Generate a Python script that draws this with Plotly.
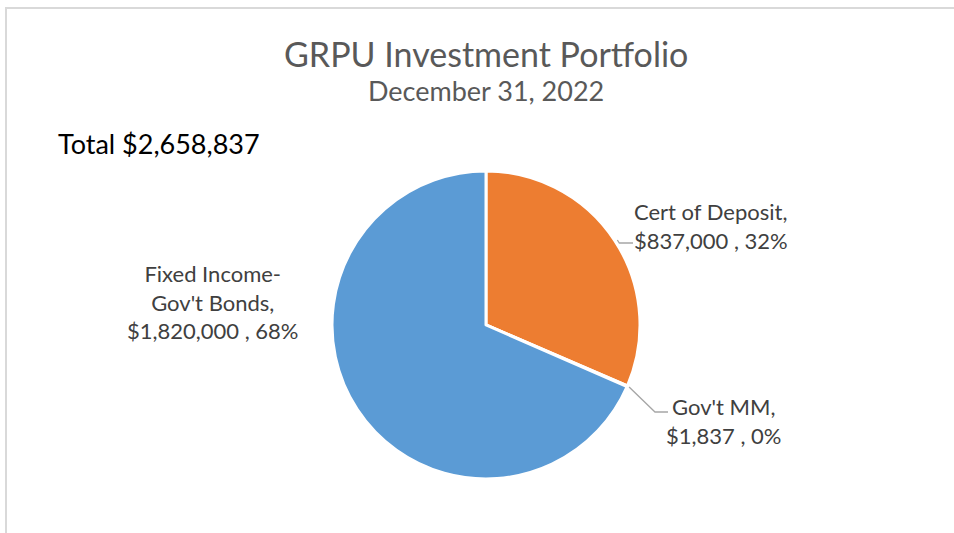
import math
import plotly.graph_objects as go

# ---- data ----
labels = ["Cert of Deposit", "Gov't MM", "Fixed Income-<br>Gov't Bonds"]
values = [837000, 1837, 1820000]
pct_labels = ["32%", "0%", "68%"]
colors = ["#ED7D31", "#A5A5A5", "#5B9BD5"]
title_text = "GRPU Investment Portfolio"
subtitle_text = "December 31, 2022"

W, H = 954, 533
total = sum(values)

# pie geometry (pixels)
CX, CY, R = 486, 325, 154


def px(x):
    return x / W


def py(y):
    return 1 - y / H


fig = go.Figure()
fig.add_trace(go.Pie(
    labels=labels,
    values=values,
    sort=False,
    direction="clockwise",
    rotation=0,
    marker=dict(colors=colors, line=dict(color="white", width=3)),
    textinfo="none",
    hoverinfo="label+value+percent",
    domain=dict(x=[px(CX - R), px(CX + R)], y=[py(CY + R), py(CY - R)]),
    showlegend=False,
))


def fmt(i):
    return f"{labels[i]},<br>${values[i]:,} , {pct_labels[i]}"


FONT = "Lato, Calibri, sans-serif"
label_font = dict(family=FONT, size=22, color="#404040")

# slice mid angles (clockwise from 12 o'clock)
cum = 0
mids = []
for v in values:
    mids.append((cum + v / 2) / total * 2 * math.pi)
    cum += v


def edge(theta, r):
    return CX + r * math.sin(theta), CY - r * math.cos(theta)


annotations = [
    dict(text=title_text, x=px(CX), y=py(53), xref="paper", yref="paper",
         showarrow=False, xanchor="center", yanchor="middle",
         font=dict(family=FONT, size=34, color="#595959")),
    dict(text=subtitle_text, x=px(CX), y=py(90), xref="paper", yref="paper",
         showarrow=False, xanchor="center", yanchor="middle",
         font=dict(family=FONT, size=27, color="#595959")),
    dict(text=f"Total ${total:,}", x=px(56), y=py(143), xref="paper", yref="paper",
         showarrow=False, xanchor="left", yanchor="middle",
         font=dict(family=FONT, size=27, color="#000000")),
    dict(text=fmt(0), x=px(711), y=py(226), xref="paper", yref="paper",
         showarrow=False, xanchor="center", yanchor="middle", align="left", font=label_font),
    dict(text=fmt(1), x=px(723), y=py(421), xref="paper", yref="paper",
         showarrow=False, xanchor="center", yanchor="middle", align="center", font=label_font),
    dict(text=fmt(2), x=px(212), y=py(302), xref="paper", yref="paper",
         showarrow=False, xanchor="center", yanchor="middle", align="center", font=label_font),
]

shapes = []
# border of chart area
shapes.append(dict(type="rect", xref="paper", yref="paper",
                   x0=px(6), x1=px(W + 10), y0=py(H + 10), y1=py(8),
                   line=dict(color="#D9D9D9", width=2), fillcolor="rgba(0,0,0,0)"))
# leader line for Gov't MM
sx, sy = edge(mids[1], R + 2)
shapes.append(dict(type="path", xref="paper", yref="paper",
                   path=f"M {px(sx)},{py(sy)} L {px(655)},{py(412)} L {px(668)},{py(412)}",
                   line=dict(color="#A6A6A6", width=1.3)))
# leader line for Cert of Deposit
ly = 243
lx0 = CX + math.sqrt(R ** 2 - (ly - CY) ** 2) + 1
shapes.append(dict(type="path", xref="paper", yref="paper",
                   path=f"M {px(lx0)},{py(ly - 3)} L {px(lx0 + 2)},{py(ly)} L {px(633)},{py(ly)}",
                   line=dict(color="#A6A6A6", width=1.3)))

fig.update_layout(
    width=W, height=H,
    margin=dict(l=0, r=0, t=0, b=0),
    paper_bgcolor="white", plot_bgcolor="white",
    annotations=annotations, shapes=shapes,
)

fig.write_html("out.html", config={"displayModeBar": False},
               post_script="document.body.style.margin='0';document.body.style.overflow='hidden';")
